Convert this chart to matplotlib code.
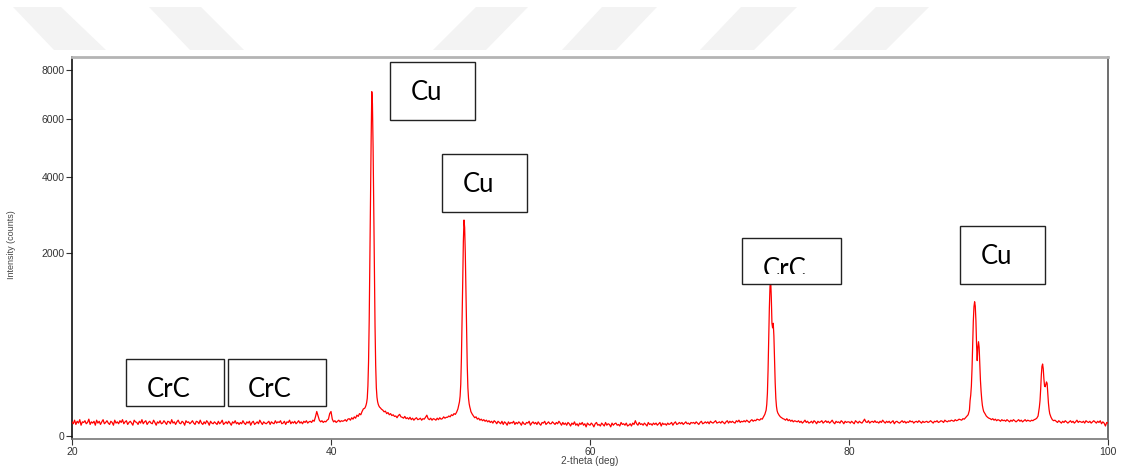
import numpy as np
import matplotlib
matplotlib.use("Agg")
import matplotlib.pyplot as plt
from matplotlib.patches import Rectangle, Polygon

# ---------------------------------------------------------------
# Diffraction pattern data
# Background counts every 0.1 deg, 20.0 ... 100.0 deg 2-theta
# (values inside the peak windows are replaced by the finer peak scans)
# ---------------------------------------------------------------
theta_start = 20.0
theta_step = 0.1
background_counts = [
    12, 9, 15, 8, 13, 10, 16, 7, 12, 11,      # 20
    14, 9, 11, 17, 8, 12, 10, 13, 7, 15,      # 21
    10, 13, 8, 12, 16, 9, 11, 14, 10, 8,      # 22
    13, 11, 7, 15, 10, 12, 9, 14, 11, 16,     # 23
    9, 12, 14, 8, 11, 13, 10, 7, 15, 12,      # 24
    11, 8, 13, 10, 16, 9, 12, 14, 8, 11,      # 25
    13, 10, 9, 15, 11, 7, 12, 10, 14, 9,      # 26
    10, 14, 11, 8, 13, 12, 9, 16, 10, 12,     # 27
    8, 12, 15, 10, 9, 13, 11, 7, 14, 11,      # 28
    12, 9, 11, 14, 10, 8, 13, 12, 9, 15,      # 29
    10, 8, 12, 9, 14, 11, 7, 13, 10, 9,       # 30
    12, 10, 8, 13, 9, 11, 15, 8, 10, 12,      # 31
    9, 13, 10, 7, 12, 10, 14, 9, 11, 8,       # 32
    11, 9, 14, 10, 8, 12, 10, 13, 7, 11,      # 33
    13, 8, 10, 12, 9, 15, 11, 8, 12, 10,      # 34
    9, 11, 13, 8, 12, 10, 9, 14, 10, 12,      # 35
    11, 14, 9, 10, 13, 8, 12, 11, 15, 9,      # 36
    12, 10, 13, 9, 11, 14, 10, 12, 9, 13,     # 37
    11, 14, 10, 12, 13, 11, 15, 13, 22, 36,   # 38
    24, 15, 12, 14, 11, 13, 12, 15, 17, 30,   # 39
    36, 17, 12, 14, 11, 13, 15, 12, 14, 13,   # 40
    14, 16, 13, 17, 18, 15, 20, 17, 22, 19,   # 41
    26, 23, 30, 27, 36, 44, 50, 60, 90, 300,  # 42
    1750, 7000, 3100, 720, 140, 70, 56, 50, 48, 43,  # 43
    40, 35, 37, 30, 33, 27, 30, 25, 27, 23,   # 44
    24, 20, 25, 28, 22, 21, 19, 23, 18, 20,   # 45
    17, 21, 16, 19, 15, 18, 20, 16, 17, 19,   # 46
    15, 18, 17, 21, 26, 18, 16, 19, 15, 18,   # 47
    17, 15, 19, 16, 20, 17, 18, 22, 19, 21,   # 48
    21, 24, 22, 27, 25, 30, 28, 34, 44, 60,   # 49
    200, 1000, 2700, 1300, 320, 85, 50, 45, 36, 29,  # 50
    24, 20, 22, 17, 19, 15, 17, 14, 16, 13,   # 51
    15, 12, 14, 11, 13, 10, 14, 12, 9, 13,    # 52
    11, 9, 13, 8, 12, 10, 7, 12, 9, 11,       # 53
    10, 13, 8, 11, 9, 12, 10, 7, 12, 9,       # 54
    8, 11, 10, 13, 7, 10, 12, 9, 11, 8,       # 55
    12, 9, 7, 11, 10, 13, 8, 10, 12, 9,       # 56
    9, 12, 10, 8, 11, 9, 13, 10, 7, 11,       # 57
    8, 10, 7, 11, 9, 6, 10, 8, 12, 7,         # 58
    9, 6, 10, 8, 11, 7, 9, 5, 10, 8,          # 59
    7, 10, 8, 5, 9, 11, 7, 8, 6, 10,          # 60
    8, 6, 11, 7, 9, 8, 5, 10, 7, 9,           # 61
    10, 7, 8, 6, 11, 8, 9, 7, 10, 6,          # 62
    7, 9, 6, 10, 8, 14, 9, 7, 11, 8,          # 63
    9, 7, 10, 8, 6, 11, 8, 9, 7, 10,          # 64
    8, 10, 7, 9, 11, 6, 10, 8, 9, 7,          # 65
    10, 8, 9, 11, 7, 10, 12, 8, 9, 11,        # 66
    9, 11, 8, 10, 12, 9, 10, 8, 11, 10,       # 67
    11, 9, 12, 10, 8, 11, 13, 9, 10, 12,      # 68
    10, 12, 9, 13, 11, 10, 12, 14, 10, 11,    # 69
    12, 10, 13, 11, 9, 12, 14, 10, 13, 11,    # 70
    13, 11, 10, 14, 12, 15, 11, 13, 12, 14,   # 71
    12, 15, 13, 11, 14, 16, 13, 15, 14, 17,   # 72
    16, 15, 18, 17, 22, 28, 40, 260, 980, 1470,  # 73
    760, 760, 340, 85, 38, 32, 26, 22, 20, 18,   # 74
    17, 15, 18, 14, 16, 13, 15, 12, 14, 13,   # 75
    12, 14, 11, 13, 10, 12, 15, 11, 13, 10,   # 76
    11, 13, 10, 14, 12, 9, 13, 11, 12, 14,    # 77
    10, 12, 14, 11, 13, 10, 12, 15, 11, 9,    # 78
    13, 11, 12, 10, 14, 12, 9, 13, 11, 12,    # 79
    12, 10, 13, 11, 9, 14, 12, 10, 13, 11,    # 80
    10, 13, 17, 12, 11, 14, 10, 12, 13, 11,   # 81
    14, 11, 12, 10, 13, 11, 15, 12, 10, 13,   # 82
    11, 13, 10, 12, 14, 9, 12, 13, 11, 10,    # 83
    12, 14, 11, 13, 10, 12, 11, 14, 12, 13,   # 84
    10, 12, 13, 11, 14, 12, 10, 13, 11, 12,   # 85
    13, 11, 12, 14, 12, 10, 13, 12, 14, 11,   # 86
    12, 14, 13, 11, 15, 13, 12, 14, 13, 15,   # 87
    14, 13, 16, 14, 15, 17, 16, 15, 18, 17,   # 88
    20, 23, 27, 40, 100, 500, 1078, 800, 340, 470,  # 89
    532, 300, 120, 56, 36, 30, 24, 21, 19, 18,      # 90
    16, 18, 15, 17, 14, 16, 15, 13, 16, 14,   # 91
    15, 13, 16, 14, 12, 15, 13, 16, 14, 12,   # 92
    14, 16, 13, 15, 12, 14, 16, 13, 15, 14,   # 93
    13, 15, 14, 16, 17, 19, 24, 38, 130, 290, # 94
    270, 150, 160, 165, 65, 30, 21, 16, 14, 15,  # 95
    13, 11, 14, 12, 10, 13, 11, 14, 12, 10,   # 96
    12, 14, 11, 13, 10, 12, 15, 11, 13, 12,   # 97
    11, 13, 10, 14, 12, 11, 13, 10, 12, 14,   # 98
    12, 10, 13, 11, 14, 9, 12, 10, 6, 11,     # 99
    10,                                       # 100
]

# Fine scans across the reflections (2-theta in deg, counts)
cu111_theta = [42.60, 42.65, 42.70, 42.75, 42.80, 42.85, 42.90, 42.95, 43.00,
               43.05, 43.10, 43.15, 43.20, 43.25, 43.30, 43.35, 43.40, 43.45,
               43.50, 43.55, 43.60, 43.65, 43.70, 43.75]
cu111_counts = [46, 50, 56, 66, 85, 150, 330, 800, 1750,
                3300, 5250, 7090, 6600, 5000, 3100, 1600, 720, 300,
                140, 90, 70, 60, 54, 50]

cu200_theta = [49.82, 49.87, 49.92, 49.97, 50.02, 50.07, 50.12, 50.17, 50.22,
               50.27, 50.32, 50.37, 50.42, 50.47, 50.52, 50.57, 50.62, 50.67,
               50.72, 50.77]
cu200_counts = [48, 58, 70, 95, 160, 360, 760, 1400, 2250,
                2790, 2600, 2000, 1250, 640, 300, 140, 85, 62,
                50, 42]

crc74_theta = [73.60, 73.65, 73.70, 73.75, 73.80, 73.85, 73.90, 73.95, 74.00,
               74.05, 74.10, 74.15, 74.20, 74.25, 74.30, 74.35, 74.40, 74.45]
crc74_counts = [40, 60, 110, 260, 560, 980, 1340, 1470, 1150,
                760, 700, 760, 600, 340, 170, 85, 52, 38]

cu220_theta = [89.35, 89.40, 89.45, 89.50, 89.55, 89.60, 89.65, 89.70, 89.75,
               89.80, 89.85, 89.90, 89.95, 90.00, 90.05, 90.10, 90.15, 90.20,
               90.25, 90.30, 90.35, 90.40]
cu220_counts = [75, 100, 150, 270, 500, 790, 1000, 1078, 1010,
                800, 500, 340, 470, 532, 470, 300, 185, 120,
                80, 56, 44, 36]

peak95_theta = [94.70, 94.75, 94.80, 94.85, 94.90, 94.95, 95.00, 95.05, 95.10,
                95.15, 95.20, 95.25, 95.30, 95.35, 95.40, 95.45, 95.50]
peak95_counts = [50, 75, 130, 220, 290, 310, 270, 195, 150,
                 145, 160, 175, 165, 110, 65, 42, 30]

x_ticks = [20, 40, 60, 80, 100]
y_ticks = [0, 2000, 4000, 6000, 8000]
phase_labels = ["Cu", "Cu", "CrC", "Cu", "CrC", "CrC"]

# ---------------------------------------------------------------
# Assemble the full trace
# ---------------------------------------------------------------
bg = np.asarray(background_counts, dtype=float)
assert len(bg) == 801, len(bg)
theta_bg = np.round(theta_start + theta_step * np.arange(len(bg)), 2)

scans = [(cu111_theta, cu111_counts), (cu200_theta, cu200_counts),
         (crc74_theta, crc74_counts), (cu220_theta, cu220_counts),
         (peak95_theta, peak95_counts)]
keep = np.ones(len(bg), dtype=bool)
for t, c in scans:
    keep &= ~((theta_bg >= t[0] - 1e-9) & (theta_bg <= t[-1] + 1e-9))

theta = np.concatenate([theta_bg[keep]] + [np.asarray(t, float) for t, _ in scans])
counts = np.concatenate([bg[keep]] + [np.asarray(c, float) for _, c in scans])
order = np.argsort(theta)
theta, counts = theta[order], counts[order]

# ---------------------------------------------------------------
# Figure
# ---------------------------------------------------------------
W, H = 1121, 473
fig = plt.figure(figsize=(W / 100, H / 100), dpi=100)
fig.patch.set_facecolor("white")


def fx(x):
    return x / W


def fy(y):
    return 1 - y / H


# faint slanted banner shapes across the top
stripes_back = [(13, 61, 54, 106), (149, 201, 190, 244)]
stripes_fwd = [(476, 528, 433, 486), (602, 657, 562, 616),
               (741, 797, 700, 754), (876, 929, 833, 886)]
for a, b, c, d in stripes_back + stripes_fwd:
    poly = Polygon([(fx(a), fy(7)), (fx(b), fy(7)), (fx(d), fy(50)), (fx(c), fy(50))],
                   closed=True, transform=fig.transFigure, facecolor="#f3f3f3",
                   edgecolor="none", zorder=0)
    fig.add_artist(poly)

ax = fig.add_axes([fx(72), fy(439), (1108 - 72) / W, (439 - 57) / H])


def fwd(v):
    v = np.asarray(v, dtype=float)
    return np.sign(v) * np.sqrt(np.abs(v))


def inv(v):
    v = np.asarray(v, dtype=float)
    return np.sign(v) * v ** 2


ax.set_yscale("function", functions=(fwd, inv))
ax.plot(theta, counts, color="#ff0000", lw=0.9, zorder=3)

ax.set_xlim(20, 100)
ax.set_ylim(-0.53, 8590)
ax.set_xticks(x_ticks)
ax.set_xticklabels([str(t) for t in x_ticks])
ax.set_yticks(y_ticks)
ax.set_yticklabels([str(t) for t in y_ticks])
ax.minorticks_off()

for lab in ax.get_xticklabels() + ax.get_yticklabels():
    lab.set_fontfamily("Liberation Sans")
ax.tick_params(axis="both", direction="out", length=4, width=0.8,
               colors="#333333", labelsize=7.5, pad=1.5)

ax.spines["left"].set_color("#111111")
ax.spines["left"].set_linewidth(1.2)
ax.spines["bottom"].set_color("#777777")
ax.spines["bottom"].set_linewidth(1.2)
ax.spines["top"].set_color("#b4b4b4")
ax.spines["top"].set_linewidth(2.0)
ax.spines["right"].set_color("#555555")
ax.spines["right"].set_linewidth(1.2)

fig.text(fx(12), fy(245), "Intensity (counts)", rotation=90, ha="center",
         va="center", fontsize=6.5, color="#444444", family="Liberation Sans")
fig.text(fx(590), fy(461), "2-theta (deg)", ha="center", va="center",
         fontsize=7.2, color="#444444", family="Liberation Sans")

# phase label boxes: (left, top, right, bottom) and text anchor (left, baseline)
label_boxes = [(390, 62, 475, 120), (442, 154, 527, 212), (742, 238, 841, 284),
               (960, 226, 1045, 284), (126, 359, 224, 406), (228, 359, 326, 406)]
label_anchor = [(411, 100), (463, 192), (763, 277), (981, 264),
                (147, 397), (248, 397)]
label_clip_bottom = [None, None, 274, None, None, None]

for (l, t, r, b), (tx, ty), clip_b, txt in zip(label_boxes, label_anchor,
                                               label_clip_bottom, phase_labels):
    rect = Rectangle((fx(l), fy(b)), (r - l) / W, (b - t) / H,
                     transform=fig.transFigure, facecolor="white",
                     edgecolor="#222222", lw=1.0, zorder=5)
    fig.add_artist(rect)
    text = fig.text(fx(tx), fy(ty), txt, ha="left", va="baseline",
                    fontsize=18.5, family="Lato", color="black", zorder=6)
    if clip_b is not None:
        clip = Rectangle((fx(l), fy(clip_b)), (r - l) / W, (clip_b - t) / H,
                         transform=fig.transFigure, facecolor="none",
                         edgecolor="none")
        text.set_clip_path(clip)
        text.set_clip_on(True)

fig.savefig("out.png", dpi=100, facecolor="white")
